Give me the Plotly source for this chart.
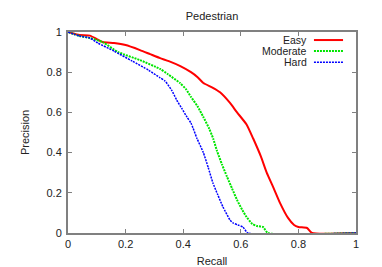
import plotly.graph_objects as go

easy_recall = [0.0, 0.04, 0.076, 0.1, 0.12, 0.16, 0.2, 0.25, 0.285, 0.32, 0.35, 0.39, 0.427, 0.45, 0.47, 0.5, 0.528, 0.5625, 0.587, 0.62, 0.643, 0.67, 0.69, 0.715, 0.736, 0.764, 0.785, 0.80, 0.83, 0.847, 1.0]
easy_precision = [1.0, 0.985, 0.982, 0.965, 0.95, 0.945, 0.935, 0.91, 0.89, 0.87, 0.855, 0.83, 0.80, 0.775, 0.746, 0.725, 0.70, 0.647, 0.60, 0.54, 0.47, 0.38, 0.30, 0.22, 0.15, 0.075, 0.04, 0.03, 0.025, 0.0, 0.0]

mod_recall = [0.0, 0.04, 0.076, 0.12, 0.174, 0.25, 0.32, 0.347, 0.389, 0.41, 0.427, 0.45, 0.47, 0.49, 0.504, 0.517, 0.535, 0.552, 0.57, 0.587, 0.605, 0.62, 0.64, 0.656, 0.677, 0.694, 1.0]
mod_precision = [1.0, 0.98, 0.97, 0.95, 0.90, 0.86, 0.816, 0.79, 0.746, 0.715, 0.677, 0.63, 0.577, 0.52, 0.47, 0.41, 0.34, 0.28, 0.22, 0.164, 0.115, 0.08, 0.045, 0.035, 0.03, 0.0, 0.0]

hard_recall = [0.0, 0.04, 0.076, 0.104, 0.16, 0.222, 0.28, 0.319, 0.337, 0.36, 0.378, 0.395, 0.413, 0.427, 0.448, 0.47, 0.487, 0.503, 0.52, 0.538, 0.5625, 0.573, 0.59, 0.607, 0.625, 1.0]
hard_precision = [1.0, 0.98, 0.97, 0.945, 0.905, 0.856, 0.81, 0.773, 0.756, 0.71, 0.66, 0.62, 0.577, 0.547, 0.47, 0.40, 0.325, 0.25, 0.19, 0.13, 0.065, 0.05, 0.04, 0.03, 0.0, 0.0]

tick_vals = [0, 0.2, 0.4, 0.6, 0.8, 1]
tick_text = ["0", "0.2", "0.4", "0.6", "0.8", "1"]

series = [
    ("Easy", easy_recall, easy_precision, "#ff0000", "solid", 2),
    ("Moderate", mod_recall, mod_precision, "#00e600", "2px,1px", 2),
    ("Hard", hard_recall, hard_precision, "#0000ff", "2px,1px", 1.5),
]

fig = go.Figure()
for name, x, y, color, dash, w in series:
    fig.add_trace(go.Scatter(x=x, y=y, mode="lines", name=name, cliponaxis=False,
                             line=dict(color=color, dash=dash, width=w, shape="spline", smoothing=0.5),
                             showlegend=False))

font = "Liberation Sans, Arial, sans-serif"
axis_common = dict(range=[0, 1], tickvals=tick_vals, ticktext=tick_text, ticks="inside",
                   ticklen=4, tickcolor="#808080", showline=True, linecolor="#808080",
                   linewidth=2, mirror="ticks", showgrid=False, zeroline=False, automargin=False,
                   tickfont=dict(family=font, size=11, color="#222"))

# page body has an 8px default margin, so the figure is sized to fit inside the window
fig.update_layout(
    width=374, height=259,
    margin=dict(l=60, r=26, t=24, b=34),
    plot_bgcolor="white", paper_bgcolor="white",
    title=dict(text="Pedestrian", x=204/374, xanchor="center", y=1-8/259, yanchor="middle",
               font=dict(family=font, size=11, color="#222")),
    xaxis=dict(**axis_common, title=dict(text="Recall", font=dict(family=font, size=11, color="#222"), standoff=8)),
    yaxis=dict(**axis_common, ticklabelstandoff=2,
               title=dict(text="Precision", font=dict(family=font, size=11, color="#222"), standoff=15)),
)

legend_y = [0.96, 0.905, 0.85]
for (name, x, y, color, dash, w), ly in zip(series, legend_y):
    fig.add_annotation(x=0.833, y=ly, xref="paper", yref="paper", text=name, showarrow=False,
                       xanchor="right", yanchor="middle", borderpad=0,
                       font=dict(family=font, size=10.5, color="#222"))
    fig.add_shape(type="line", xref="paper", yref="paper", x0=0.854, x1=0.955, y0=ly, y1=ly,
                  line=dict(color=color, dash=dash, width=w))

fig.write_html("out.html")
